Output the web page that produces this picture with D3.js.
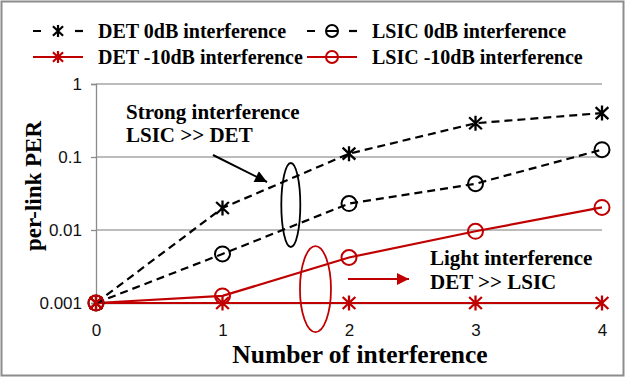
<!DOCTYPE html>
<html>
<head>
<meta charset="utf-8">
<script src="https://cdn.jsdelivr.net/npm/d3@7/dist/d3.min.js"></script>
<style>
  html, body { margin: 0; padding: 0; background: #fff; }
  svg { display: block; }
</style>
</head>
<body>
<svg id="chart" width="626" height="378"></svg>
<script>
// Number of interferers on the x axis
const interferers = [0, 1, 2, 3, 4];

// Per-link packet error rate for each receiver / interference level
const det0dB    = [0.001, 0.020, 0.111, 0.29, 0.40];
const lsic0dB   = [0.001, 0.0047, 0.023, 0.043, 0.126];
const det10dB   = [0.001, 0.001, 0.001, 0.001, 0.001];
const lsic10dB  = [0.001, 0.00125, 0.0042, 0.0096, 0.0204];

const seriesNames = [
  "DET 0dB interference",
  "LSIC 0dB interference",
  "DET -10dB interference",
  "LSIC -10dB interference"
];

const yTickValues = [0.001, 0.01, 0.1, 1];
const yTickLabels = ["0.001", "0.01", "0.1", "1"];
const xTickLabels = ["0", "1", "2", "3", "4"];

const RED = "#c00000";
const BLACK = "#000";
const SERIF = "'Liberation Serif', 'Times New Roman', serif";
const SANS = "'Liberation Sans', Arial, sans-serif";

const series = [
  { name: seriesNames[0], values: det0dB,   color: BLACK, dash: "8,5", marker: "star" },
  { name: seriesNames[1], values: lsic0dB,  color: BLACK, dash: "8,5", marker: "circle" },
  { name: seriesNames[2], values: det10dB,  color: RED,   dash: null,  marker: "star" },
  { name: seriesNames[3], values: lsic10dB, color: RED,   dash: null,  marker: "circle" }
];

const svg = d3.select("#chart");

// Outer frame
svg.append("rect")
  .attr("x", 1.5).attr("y", 1.5)
  .attr("width", 622).attr("height", 374)
  .attr("fill", "#fff")
  .attr("stroke", "#8c8c8c")
  .attr("stroke-width", 2);

const plot = { left: 96, right: 602, top: 84, bottom: 303 };

const x = d3.scaleLinear().domain([0, 4]).range([plot.left, plot.right]);
const y = d3.scaleLog().domain([0.001, 1]).range([plot.bottom, plot.top]);

// Horizontal grid lines
svg.append("g")
  .selectAll("line")
  .data(yTickValues.slice(1))
  .join("line")
  .attr("x1", plot.left).attr("x2", plot.right)
  .attr("y1", d => y(d)).attr("y2", d => y(d))
  .attr("stroke", "#a6a6a6")
  .attr("stroke-width", 1.3);

// Y axis
const yAxis = d3.axisLeft(y)
  .tickValues(yTickValues)
  .tickFormat((d, i) => yTickLabels[i])
  .tickSize(5)
  .tickPadding(9);

const yG = svg.append("g")
  .attr("transform", `translate(${plot.left},0)`)
  .call(yAxis);
yG.select(".domain").attr("stroke", "#8c8c8c").attr("stroke-width", 1.3);
yG.selectAll(".tick line").attr("stroke", "#8c8c8c").attr("stroke-width", 1.3);
yG.selectAll(".tick text")
  .attr("font-family", SANS)
  .attr("font-size", 17)
  .attr("fill", "#111");

// X axis
const xAxis = d3.axisBottom(x)
  .tickValues(interferers)
  .tickFormat((d, i) => xTickLabels[i])
  .tickSize(0)
  .tickPadding(21);

const xG = svg.append("g")
  .attr("transform", `translate(0,${plot.bottom})`)
  .call(xAxis);
xG.select(".domain").attr("stroke", "#8c8c8c").attr("stroke-width", 1.3);
xG.selectAll(".tick text")
  .attr("font-family", SANS)
  .attr("font-size", 17)
  .attr("fill", "#111");

// Axis titles
svg.append("text")
  .attr("x", 360).attr("y", 363)
  .attr("text-anchor", "middle")
  .attr("font-family", SERIF)
  .attr("font-weight", "bold")
  .attr("font-size", 25.5)
  .attr("fill", "#000")
  .text("Number of interference");

svg.append("text")
  .attr("transform", "translate(41,186) rotate(-90)")
  .attr("text-anchor", "middle")
  .attr("font-family", SERIF)
  .attr("font-weight", "bold")
  .attr("font-size", 23)
  .attr("fill", "#000")
  .text("per-link PER");

// Marker shapes
function starPath(s) {
  return `M0,${-s}L0,${s}M${-s * 0.85},${-s * 0.8}L${s * 0.85},${s * 0.8}M${-s * 0.85},${s * 0.8}L${s * 0.85},${-s * 0.8}`;
}

function drawMarker(g, type, color) {
  if (type === "star") {
    g.append("path")
      .attr("d", starPath(7.5))
      .attr("fill", "none")
      .attr("stroke", color)
      .attr("stroke-width", 2.3);
  } else {
    g.append("circle")
      .attr("r", 7.5)
      .attr("fill", "none")
      .attr("stroke", color)
      .attr("stroke-width", 2);
  }
}

const line = d3.line()
  .x((d, i) => x(interferers[i]))
  .y(d => y(d));

// Series lines and markers (red -10dB drawn first, black 0dB on top)
const drawOrder = [2, 3, 0, 1];
drawOrder.forEach(k => {
  const s = series[k];
  svg.append("path")
    .datum(s.values)
    .attr("d", line)
    .attr("fill", "none")
    .attr("stroke", s.color)
    .attr("stroke-width", 2.2)
    .attr("stroke-dasharray", s.dash);
});
[0, 1, 2, 3].forEach(k => {
  const s = series[k];
  s.values.forEach((v, i) => {
    const g = svg.append("g").attr("transform", `translate(${x(interferers[i])},${y(v)})`);
    drawMarker(g, s.marker, s.color);
  });
});

// Legend
const legendItems = [
  { s: series[0], lx: 33, ly: 31 },
  { s: series[1], lx: 307, ly: 31 },
  { s: series[2], lx: 33, ly: 57 },
  { s: series[3], lx: 307, ly: 57 }
];
legendItems.forEach(it => {
  const g = svg.append("g").attr("transform", `translate(${it.lx},${it.ly})`);
  g.append("line")
    .attr("x1", 0).attr("x2", 50)
    .attr("y1", 0).attr("y2", 0)
    .attr("stroke", it.s.color)
    .attr("stroke-width", 2.2)
    .attr("stroke-dasharray", it.s.dash ? "8,34" : null)
    .attr("stroke-dashoffset", 0);
  if (it.s.dash) {
    g.append("line")
      .attr("x1", 42).attr("x2", 50)
      .attr("y1", 0).attr("y2", 0)
      .attr("stroke", it.s.color)
      .attr("stroke-width", 2.2);
  }
  const m = g.append("g").attr("transform", "translate(25,0)");
  if (it.s.marker === "star") {
    m.append("path").attr("d", starPath(6)).attr("fill", "none")
      .attr("stroke", it.s.color).attr("stroke-width", 2.2);
  } else {
    m.append("circle").attr("r", 6).attr("fill", it.s.dash ? "#fff" : "none")
      .attr("stroke", it.s.color).attr("stroke-width", 2);
    if (it.s.dash) {
      m.append("line").attr("x1", -5).attr("x2", 5)
        .attr("stroke", it.s.color).attr("stroke-width", 2);
    }
  }
  g.append("text")
    .attr("x", 65).attr("y", 7)
    .attr("font-family", SERIF)
    .attr("font-weight", "bold")
    .attr("font-size", 20)
    .attr("fill", "#000")
    .text(it.s.name);
});

// Annotations
const defs = svg.append("defs");
[["arrowBlack", BLACK], ["arrowRed", RED]].forEach(([id, c]) => {
  defs.append("marker")
    .attr("id", id)
    .attr("viewBox", "0 0 10 10")
    .attr("refX", 10).attr("refY", 5)
    .attr("markerWidth", 7).attr("markerHeight", 6)
    .attr("markerUnits", "strokeWidth")
    .attr("orient", "auto")
    .append("path")
    .attr("d", "M0,0L10,5L0,10Z")
    .attr("fill", c);
});

// Strong interference group
svg.append("ellipse")
  .attr("cx", x(1.54)).attr("cy", y(0.022))
  .attr("rx", 9.5).attr("ry", 42)
  .attr("fill", "none").attr("stroke", BLACK).attr("stroke-width", 1.8);

svg.append("line")
  .attr("x1", 213).attr("y1", 155)
  .attr("x2", 267).attr("y2", 182)
  .attr("stroke", BLACK).attr("stroke-width", 2)
  .attr("marker-end", "url(#arrowBlack)");

const strongText = svg.append("text")
  .attr("font-family", SERIF)
  .attr("font-weight", "bold")
  .attr("font-size", 21)
  .attr("fill", "#000");
strongText.append("tspan").attr("x", 126).attr("y", 119).text("Strong interference");
strongText.append("tspan").attr("x", 126).attr("y", 142).text("LSIC >> DET");

// Light interference group
svg.append("ellipse")
  .attr("cx", x(1.735)).attr("cy", y(0.00155))
  .attr("rx", 15.5).attr("ry", 43)
  .attr("fill", "none").attr("stroke", RED).attr("stroke-width", 1.8);

svg.append("line")
  .attr("x1", 348).attr("y1", 279)
  .attr("x2", 409).attr("y2", 279)
  .attr("stroke", RED).attr("stroke-width", 2)
  .attr("marker-end", "url(#arrowRed)");

const lightText = svg.append("text")
  .attr("font-family", SERIF)
  .attr("font-weight", "bold")
  .attr("font-size", 21)
  .attr("fill", "#000");
lightText.append("tspan").attr("x", 430).attr("y", 265).text("Light interference");
lightText.append("tspan").attr("x", 430).attr("y", 289).text("DET >> LSIC");
</script>
</body>
</html>
